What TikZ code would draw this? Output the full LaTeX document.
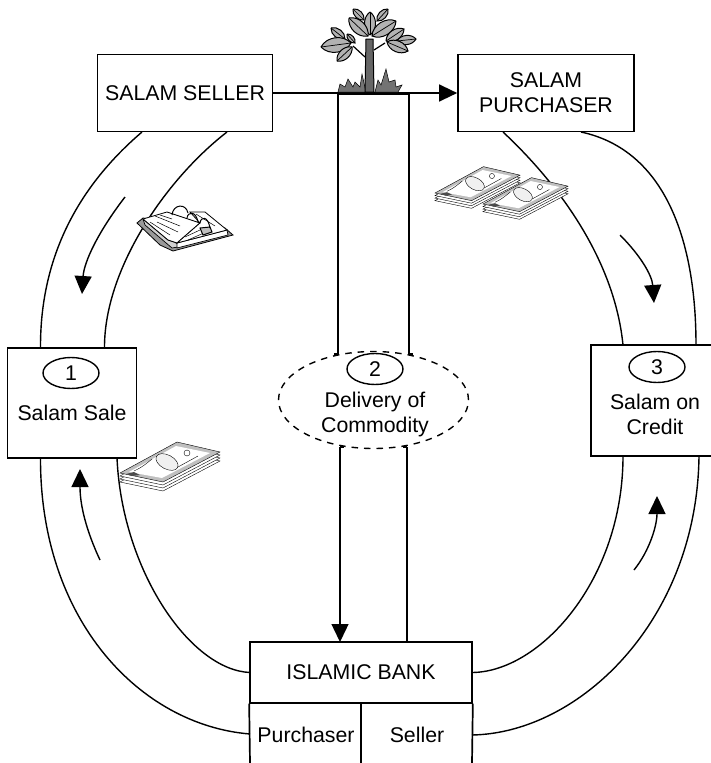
\documentclass[tikz,border=0pt]{standalone}
\usepackage{fontspec}
\setmainfont{Liberation Sans}
\usetikzlibrary{arrows.meta,shapes.geometric}
\tikzset{
  boxnode/.style={draw,line width=1.7pt,rectangle,inner sep=0pt,align=center},
  labelnode/.style={align=center,inner sep=0pt},
  numnode/.style={draw,line width=1.4pt,ellipse,minimum width=56pt,minimum height=31pt,inner sep=0pt},
  link/.style={line width=1.4pt},
  flow/.style={line width=1.4pt,-{Triangle[length=18pt,width=17pt]}},
  thinline/.style={line width=.4pt},
  leaf/.style={draw,line width=1pt,fill=black!30},
  cash/.pic={
    \foreach \d in {9,6,3}
      \draw[thinline,fill=white] (0,\d) -- (57,-31+\d) -- (100,-21+\d) -- (43,9+\d) -- cycle;
    \draw[thinline,fill=black!25] (0,0) -- (57,-31) -- (100,-21) -- (43,9) -- cycle;
    \fill[white] (9,-1) -- (56,-27) -- (90,-20) -- (42,5) -- cycle;
    \draw[thinline,fill=black!6,rotate around={-28:(47,-11)}] (47,-11) ellipse (12 and 7);
    \draw[thinline] (67,-20) circle (3);
    \draw[thinline] (14,-2) .. controls (22,-6) .. (32,-14);
    \draw[thinline] (58,-6) -- (78,-17);
    \fill[black!70] (6,1) -- (14,-1) -- (20,2) -- (12,3) -- cycle;
  }
}
\begin{document}
\begin{tikzpicture}[x=1pt,y=-1pt,font=\fontsize{21.3}{25}\selectfont]
\useasboundingbox (0,0) rectangle (710,763);

%parties
\node[boxnode,minimum width=175pt,minimum height=77pt] at (185,93) (seller) {SALAM SELLER};
\node[boxnode,minimum width=176pt,minimum height=77pt] at (546,93) (purchaser) {SALAM\\PURCHASER};
\node[boxnode,minimum width=129pt,minimum height=110pt] at (72,403) (sale) {};
\node[boxnode,minimum width=125pt,minimum height=111pt] at (653.5,400.5) (credit) {};
\node[boxnode,minimum width=222pt,minimum height=60.5pt] at (361,672.5) (bank) {ISLAMIC BANK};

%bank lower row, open at the bottom
\coordinate (bankbl) at (250,763);
\coordinate (bankbr) at (472,763);
\coordinate (bankbm) at (361,763);
\coordinate (bankm) at (361,703);
\draw[line width=1.7pt] (bank.south west) -- (bankbl);
\draw[line width=1.7pt] (bank.south east) -- (bankbr);
\draw[line width=1.7pt] (bankm) -- (bankbm);
\node[labelnode] at (306,735) (buyerlabel) {Purchaser};
\node[labelnode] at (417,735) (sellerlabel) {Seller};

%numbers and labels
\node[numnode] at (71,373) (num1) {1};
\node[labelnode] at (72,413) (salelabel) {Salam Sale};
\node[numnode] at (375,369) (num2) {2};
\node[labelnode] at (375,414) (deliverylabel) {Delivery of\\Commodity};
\node[numnode] at (657,367) (num3) {3};
\node[labelnode] at (655,414) (creditlabel) {Salam on\\Credit};
\node[draw,line width=1.4pt,dash pattern=on 6.5pt off 6pt,ellipse,minimum width=190pt,minimum height=97pt] at (373.5,400) (delivery) {};

%top left loop
\coordinate (s1) at (142,132); \coordinate (s2) at (227,132);
\coordinate (a1) at (40.5,348); \coordinate (a2) at (104.5,348);
\draw[link] (s1) .. controls (80,185) and (40,255) .. (a1);
\draw[link] (s2) .. controls (165,180) and (104,270) .. (a2);
\coordinate (fa) at (125,197); \coordinate (fb) at (82,294);
\draw[flow] (fa) .. controls (98,232) and (84,262) .. (fb);

%bottom left loop
\coordinate (a3) at (40.5,458); \coordinate (a4) at (117,458);
\coordinate (b1) at (250,734); \coordinate (b2) at (250,672.5);
\draw[link] (a3) .. controls (40,620) and (140,725) .. (b1);
\draw[link] (a4) .. controls (122,570) and (190,670) .. (b2);
\coordinate (fc) at (100,560); \coordinate (fd) at (80,469);
\draw[flow] (fc) .. controls (86,530) and (80,505) .. (fd);

%top right loop
\coordinate (p1) at (503,132); \coordinate (p2) at (581,132);
\coordinate (c1) at (623,345); \coordinate (c2) at (696,345);
\draw[link] (p1) .. controls (565,190) and (615,265) .. (c1);
\draw[link] (p2) .. controls (665,150) and (696,240) .. (c2);
\coordinate (fe) at (620,235); \coordinate (ff) at (654,303);
\draw[flow] (fe) .. controls (640,255) and (652,275) .. (ff);

%bottom right loop
\coordinate (c3) at (623,456); \coordinate (c4) at (699,456);
\coordinate (b3) at (472,672.5); \coordinate (b4) at (472,735);
\draw[link] (c3) .. controls (623,580) and (540,672) .. (b3);
\draw[link] (c4) .. controls (697,620) and (580,733) .. (b4);
\coordinate (fg) at (634,570); \coordinate (fh) at (657,496);
\draw[flow] (fg) .. controls (650,550) and (657,525) .. (fh);

%delivery columns
\coordinate (d1) at (338,93); \coordinate (d2) at (409,93);
\coordinate (d3) at (338,354); \coordinate (d4) at (409,354);
\coordinate (d5) at (340,447); \coordinate (d6) at (407,447);
\coordinate (d7) at (340,642); \coordinate (d8) at (407,642);
\draw[flow] (seller.east) -- (purchaser.west);
\draw[line width=3pt] (d1) -- (d2);
\draw[link] (d1) -- (d3) -- ++(-4,0);
\draw[link] (d2) -- (d4) -- ++(4,0);
\draw[flow] (d5) -- (d7);
\draw[link] (d5) -- ++(4,0);
\draw[link] (d6) -- (d8);
\draw[link] (d6) -- ++(-4,0);

%tree
\draw[line width=.5pt,fill=black!55] (338,92) -- (340,84) -- (345,87) -- (348,79) -- (353,87) -- (355,82) -- (360,87) -- (362,74) -- (366,92) -- cycle;
\draw[line width=.5pt,fill=black!55] (375,92) -- (378,80) -- (381,85) -- (386,69) -- (389,82) -- (395,80) -- (396,87) -- (402,85) -- (398,92) -- cycle;
\draw[line width=1pt,fill=black!60] (365,92) -- (366,39) -- (373,39) -- (374,92) -- cycle;
\draw[line width=1.2pt] (365,57) -- (353,46);
\draw[line width=1.2pt] (374,50) -- (385,43);
\foreach \xa/\ya/\xb/\yb in {
  353/9/364/20, 388/9/377/21, 370/12/370/35, 349/18/368/36, 396/21/372/36,
  331/28/345/39, 347/34/355/43, 321/47/351/43, 337/61/352/47, 386/41/404/29,
  397/41/416/39, 387/42/408/51}
{
  \draw[leaf] (\xa,\ya) to[bend left=55] (\xb,\yb) to[bend left=55] (\xa,\ya);
  \draw[line width=.7pt] (\xa,\ya) -- (\xb,\yb);
}

%book
\draw[line width=.8pt,fill=black!40] (137,223) -- (143,218) -- (225,228) -- (233,235) -- (173,251) -- (160,245) -- cycle;
\draw[line width=.7pt,fill=black!18] (143,219) -- (145,225) -- (172,248) -- (178,247) -- (177,243) -- (168,240) -- cycle;
\draw[line width=.7pt,fill=white] (177,243) -- (177,248) -- (228,235) -- (227,230) -- cycle;
\draw[line width=.8pt,fill=white] (143,219) -- (167,212) -- (200,223) -- (177,243) -- (168,240) -- cycle;
\draw[line width=.8pt,fill=white] (190,212) -- (205,212) -- (227,230) -- (208,235) -- (177,243) -- (200,223) -- cycle;
\draw[line width=.5pt] (155,216) -- (180,226) (160,215) -- (172,219) (150,222) -- (170,235) (157,222) -- (178,232);
\draw[line width=.5pt] (196,214) -- (215,226) (185,237) -- (200,230) (188,240) -- (206,232);
\draw[line width=1pt,fill=black!25] (200,228) -- (210,227) -- (212,232) -- (203,235) -- cycle;
\draw[line width=1pt] (172,215) .. controls (173,204) and (186,203) .. (188,213);
\draw[line width=1pt] (187,218) .. controls (188,211) and (196,211) .. (198,222);
\draw[line width=1pt] (200,223) .. controls (201,216) and (208,216) .. (210,228);

%cash
\pic at (120,473) {cash};
\pic[scale=.85] at (435,193) {cash};
\pic[scale=.85] at (483,204) {cash};
\end{tikzpicture}
\end{document}
